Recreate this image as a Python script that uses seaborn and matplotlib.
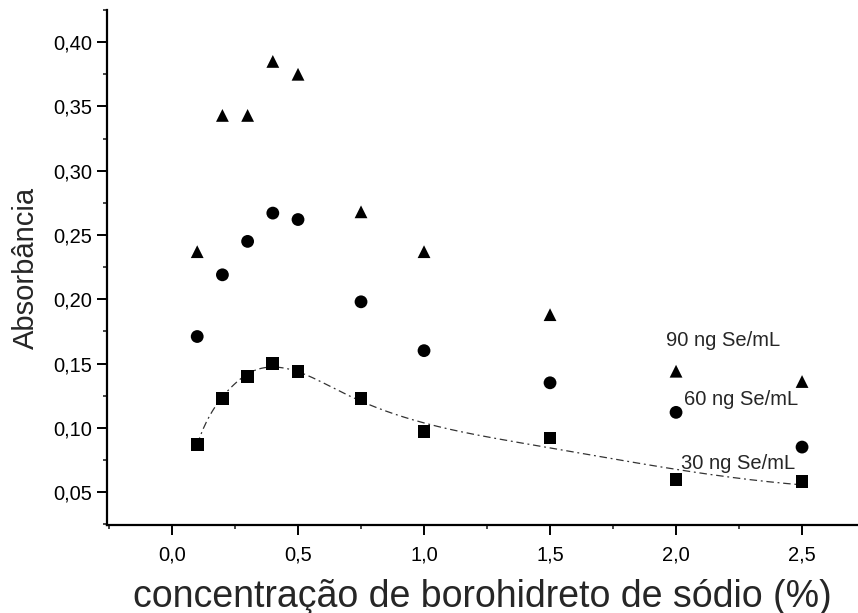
import numpy as np
import pandas as pd
import matplotlib
matplotlib.use("Agg")
import matplotlib.pyplot as plt
from matplotlib.ticker import MultipleLocator, FuncFormatter
import seaborn as sns

# Sodium borohydride concentration (%)
borohidreto = [0.1, 0.2, 0.3, 0.4, 0.5, 0.75, 1.0, 1.5, 2.0, 2.5]

# Absorbance for each selenium concentration
abs_90 = [0.237, 0.343, 0.343, 0.385, 0.375, 0.268, 0.237, 0.188, 0.144, 0.136]
abs_60 = [0.171, 0.219, 0.245, 0.267, 0.262, 0.198, 0.160, 0.135, 0.112, 0.085]
abs_30 = [0.087, 0.123, 0.140, 0.150, 0.144, 0.123, 0.097, 0.092, 0.060, 0.058]

series_names = ["90 ng Se/mL", "60 ng Se/mL", "30 ng Se/mL"]

sns.set_theme(style="ticks")
plt.rcParams["font.family"] = ["Liberation Sans", "DejaVu Sans"]

df = pd.DataFrame({
    "x": borohidreto * 3,
    "y": abs_90 + abs_60 + abs_30,
    "serie": np.repeat(series_names, len(borohidreto)),
})

fig = plt.figure(figsize=(8.58, 6.13), dpi=100)
ax = fig.add_axes([0.1247, 0.1436, 0.8753, 0.8401])

sns.scatterplot(
    data=df, x="x", y="y", style="serie", hue="serie",
    markers={"90 ng Se/mL": "^", "60 ng Se/mL": "o", "30 ng Se/mL": "s"},
    palette={n: "black" for n in series_names},
    s=85, edgecolor="black", linewidth=0, legend=False, ax=ax, zorder=3,
)

# Smoothed trend of the 30 ng/mL series: local quadratic regression in log(x)
def local_fit(xs, ys, grid, h=0.17):
    lx = np.log10(np.asarray(xs)); ys = np.asarray(ys)
    out = []
    for g in np.log10(grid):
        w = np.exp(-0.5 * ((lx - g) / h) ** 2)
        A = np.vstack([np.ones_like(lx), lx - g, (lx - g) ** 2]).T
        W = np.diag(w)
        beta = np.linalg.lstsq(A.T @ W @ A, A.T @ W @ ys, rcond=None)[0]
        out.append(beta[0])
    return np.array(out)

grid = np.linspace(min(borohidreto), max(borohidreto), 200)
fit30 = local_fit(borohidreto, abs_30, grid)
sns.lineplot(x=grid, y=fit30, ax=ax, color="#333333", linewidth=0.9,
             linestyle=(0, (6, 3, 1.5, 3)), zorder=2)

ax.text(1.96, 0.168, "90 ng Se/mL", fontsize=14.5, va="center", ha="left")
ax.text(2.03, 0.122, "60 ng Se/mL", fontsize=14.5, va="center", ha="left")
ax.text(2.02, 0.072, "30 ng Se/mL", fontsize=14.5, va="center", ha="left")

ax.set_xlim(-0.258, 2.722)
ax.set_ylim(0.0244, 0.425)
ax.xaxis.set_major_locator(MultipleLocator(0.5))
ax.xaxis.set_minor_locator(MultipleLocator(0.25))
ax.yaxis.set_major_locator(MultipleLocator(0.05))
ax.yaxis.set_minor_locator(MultipleLocator(0.025))
ax.xaxis.set_major_formatter(FuncFormatter(lambda v, p: f"{v:.1f}".replace(".", ",")))
ax.yaxis.set_major_formatter(FuncFormatter(lambda v, p: f"{v:.2f}".replace(".", ",")))
ax.tick_params(which="major", direction="out", length=7, width=1.4, labelsize=14.5, colors="black")
ax.tick_params(which="minor", direction="out", length=3, width=1.2)
ax.tick_params(axis="x", pad=8)

for side in ("top", "right"):
    ax.spines[side].set_visible(False)
for side in ("left", "bottom"):
    ax.spines[side].set_linewidth(1.6)
    ax.spines[side].set_color("black")

ax.set_xlabel("concentração de borohidreto de sódio (%)", fontsize=27, labelpad=10)
ax.set_ylabel("Absorbância", fontsize=21, labelpad=10)

fig.savefig("out.png", dpi=100, facecolor="white")
